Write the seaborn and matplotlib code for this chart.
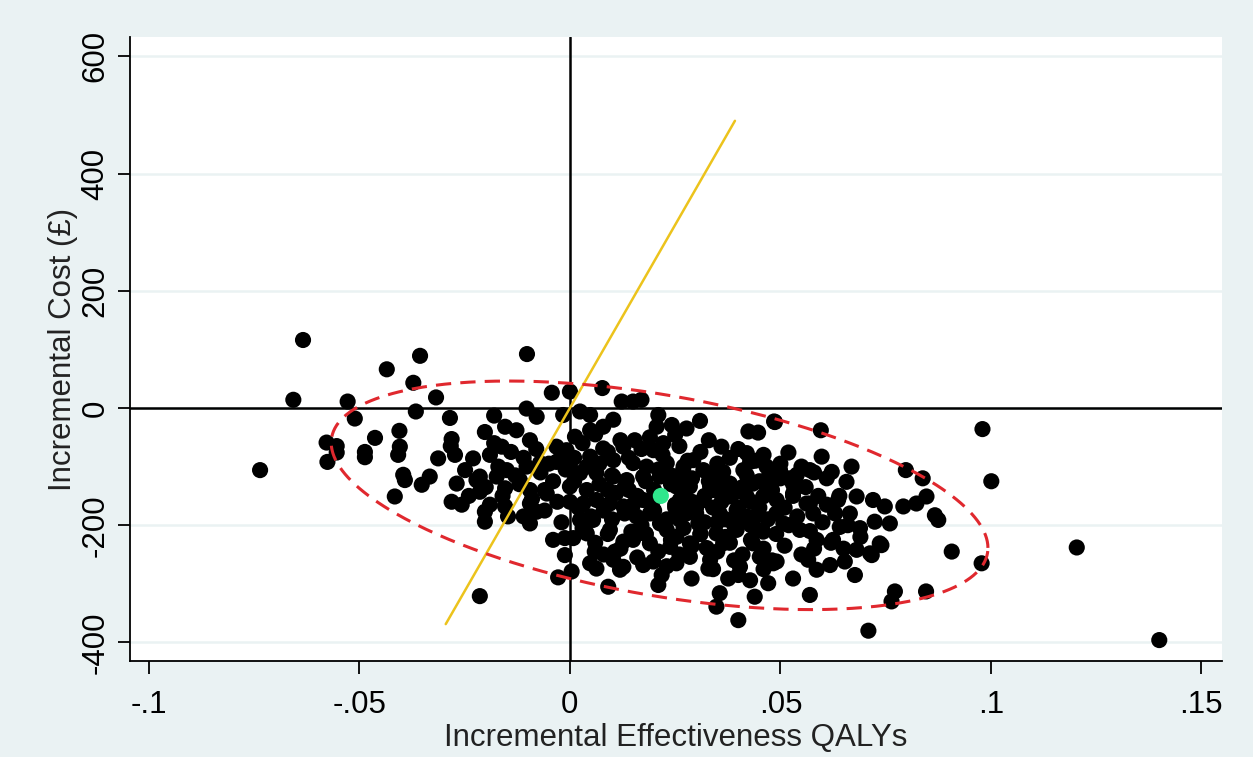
import numpy as np
import pandas as pd
import matplotlib
matplotlib.use("Agg")
import matplotlib.pyplot as plt
import seaborn as sns

# ---- data -------------------------------------------------------------
qaly_outer = [-0.0634, -0.0736, -0.0657, -0.0528, -0.0511, -0.0435, -0.0356, -0.0372, -0.0318, -0.0366,
              -0.0405, -0.0463, -0.0578, -0.0554, -0.0554, -0.0576, -0.0487, -0.0487, -0.0404, -0.0408,
              -0.0396, -0.0392, -0.0333, -0.0352, -0.0416, -0.0313]
cost_outer = [116, -106, 14, 11, -18, 66, 89, 43, 18, -6,
              -39, -51, -59, -65, -76, -92, -75, -84, -66, -80,
              -114, -123, -117, -131, -151, -86]

qaly_left = [-0.0102, -0.0043, 0.0, 0.0077, -0.0285, -0.018, -0.0103, -0.0202, -0.0154, -0.0281,
             -0.0273, -0.023, -0.0249, -0.019, -0.0162, -0.0127, -0.0095, -0.0079, -0.0032, -0.0032,
             -0.0071, -0.0103, -0.015, -0.0214, -0.0016, -0.0283,
             -0.0269, -0.0222, -0.0214, -0.0174, -0.0154, -0.0281, -0.0257, -0.0202, -0.0202, -0.0154,
             -0.0147, -0.0095, -0.0095, -0.0079, -0.0095, -0.0055, -0.0119, -0.004, -0.0012, -0.0012,
             -0.0028, -0.0214]
cost_left = [92, 26, 28, 34, -17, -13, -1, -41, -32, -53,
             -80, -86, -106, -80, -66, -38, -55, -15, -66, -92,
             -94, -100, -106, -117, -12, -65,
             -129, -123, -143, -117, -137, -160, -165, -177, -194, -168,
             -185, -163, -197, -177, -140, -146, -123, -225, -222, -251,
             -289, -321]

qaly_mid = [0.0123, 0.015, 0.017, 0.0024, 0.0048, 0.0103, 0.0079, 0.0048, 0.0012, 0.021,
            0.0206, 0.0242, 0.025, 0.0154, 0.0127, 0.0079, 0.0048, -0.0008, 0.0198, 0.0222,
            0.0103, 0.015, 0.0182, 0.023, 0.0, 0.0024, 0.0063, 0.0103, 0.0135, 0.0174,
            0.0214, 0.0245,
            0.0, 0.0032, 0.0063, 0.0095, 0.0127, 0.0158, 0.0024, 0.0055, 0.0095, 0.004,
            0.0008, 0.0127, 0.0146, 0.019, 0.0214, 0.0238, 0.0059, 0.0107, 0.0103, 0.0048,
            0.0063, 0.0127, 0.0174, 0.0198, 0.0119, 0.0004, 0.0091, 0.0218, 0.021, 0.0174,
            0.019, 0.023]
cost_mid = [11, 11, 14, -6, -12, -20, -32, -38, -49, -12,
            -32, -29, -46, -55, -66, -69, -83, -72, -72, -60,
            -89, -94, -100, -94, -100, -111, -111, -117, -123, -117,
            -117, -117,
            -134, -163, -157, -163, -168, -185, -191, -191, -208, -214,
            -222, -228, -211, -231, -197, -237, -245, -245, -259, -265,
            -274, -271, -268, -262, -276, -279, -305, -285, -302, -157,
            -180, -208]

qaly_right = [0.0309, 0.036, 0.0424, 0.0447, 0.0485, 0.0277, 0.0293, 0.0269, 0.0317, 0.034,
              0.0364, 0.042, 0.0428, 0.0412, 0.0467, 0.0483, 0.0253, 0.0285, 0.0333, 0.038,
              0.0435, 0.0467,
              0.0253, 0.0289, 0.0329, 0.0376, 0.0404, 0.0428, 0.0471, 0.0439, 0.0356, 0.0348,
              0.04, 0.0261, 0.0317, 0.038, 0.042, 0.0459, 0.0277, 0.0356, 0.0396, 0.0305,
              0.0348, 0.0396, 0.0459, 0.0253, 0.0285, 0.0325, 0.0364, 0.0435, 0.0451, 0.0483,
              0.0285, 0.0333,
              0.0487, 0.0596, 0.0519, 0.0598, 0.0669, 0.0483, 0.0499, 0.0539, 0.057, 0.0622,
              0.0657, 0.0681, 0.0637, 0.072, 0.053, 0.057, 0.0491,
              0.057, 0.0709, 0.053, 0.0618, 0.0653, 0.0677, 0.0681, 0.0713, 0.0491, 0.0566,
              0.0586, 0.0625, 0.0665, 0.0689, 0.0641, 0.0586, 0.0546, 0.0507, 0.0578, 0.0562,
              0.0736,
              0.098, 0.1001, 0.0798, 0.0838, 0.0847, 0.0823, 0.0792, 0.0867, 0.0875, 0.0748,
              0.0724, 0.076, 0.074, 0.0717, 0.0907, 0.0978, 0.0772, 0.0764, 0.0846,
              0.1204, 0.14]
cost_right = [-22, -66, -40, -42, -23, -35, -89, -106, -106, -111,
              -109, -77, -92, -106, -100, -111, -134, -134, -134, -129,
              -129, -134,
              -265, -291, -274, -291, -271, -294, -299, -322, -316, -339,
              -362, -157, -157, -151, -151, -151, -180, -180, -174, -197,
              -214, -208, -211, -220, -231, -239, -231, -231, -254, -265,
              -254, -259,
              -24, -38, -76, -83, -100, -106, -106, -114, -106, -109,
              -126, -151, -157, -157, -146, -163, -157,
              -319, -380, -291, -268, -262, -285, -242, -248, -262, -259,
              -276, -225, -180, -205, -203, -225, -208, -197, -180, -163,
              -231,
              -36, -125, -106, -120, -151, -163, -168, -183, -191, -168,
              -194, -197, -234, -251, -245, -265, -313, -330, -313,
              -238, -396]

# estimated positions in the solid-black core of the cloud
qaly_core = [0.003, 0.006, 0.009, 0.012, 0.014, 0.017, 0.019, 0.022, 0.026, 0.028,
             0.031, 0.033, 0.035, 0.038, 0.040, 0.044, 0.046, 0.050, 0.052, 0.055,
             0.001, 0.004, 0.007, 0.011, 0.013, 0.016, 0.018, 0.020, 0.024, 0.027,
             0.029, 0.032, 0.034, 0.036, 0.039, 0.041, 0.043, 0.045, 0.048, 0.051,
             0.053, 0.056, 0.059, 0.061,
             0.002, 0.005, 0.008, 0.010, 0.013, 0.015, 0.017, 0.020, 0.023, 0.025,
             0.027, 0.030, 0.032, 0.034, 0.037, 0.039, 0.042, 0.044, 0.047, 0.049,
             0.052, 0.054, 0.057, 0.060, 0.063,
             0.003, 0.006, 0.009, 0.012, 0.015, 0.018, 0.021, 0.024, 0.026, 0.029,
             0.031, 0.035, 0.038, 0.041, 0.043, 0.046, 0.048, 0.051, 0.055, 0.058,
             -0.018, -0.014, -0.011, -0.008, -0.005, -0.002, -0.017, -0.013, -0.007, -0.004,
             -0.001, -0.020, -0.016, -0.012, -0.009, -0.006, -0.003, -0.024, -0.019, -0.011,
             -0.006, -0.002, 0.000, 0.001, 0.004, 0.007, 0.010,
             0.021, 0.024, 0.027, 0.029, 0.036, 0.040, 0.045, 0.050, 0.053, 0.058,
             0.061, 0.064, 0.066, 0.062, 0.065, 0.069, 0.046, 0.040, 0.034, 0.023,
             0.016, 0.008,
             0.028, 0.033, 0.037, 0.042, 0.047, 0.030, 0.035, 0.040, 0.044, 0.026,
             0.031, 0.037, 0.043, 0.049, 0.020, 0.025, 0.014, 0.009, 0.018, 0.039]
cost_core = [-60, -45, -75, -55, -85, -70, -50, -80, -65, -90,
             -75, -55, -95, -85, -70, -90, -80, -95, -120, -100,
             -125, -140, -130, -145, -135, -150, -125, -140, -130, -145,
             -120, -150, -140, -120, -145, -135, -160, -125, -140, -170,
             -150, -135, -150, -120,
             -170, -185, -175, -190, -180, -165, -200, -175, -190, -170,
             -205, -180, -195, -170, -190, -200, -185, -205, -190, -215,
             -200, -185, -210, -195, -180,
             -205, -230, -215, -240, -225, -215, -245, -225, -250, -235,
             -215, -245, -230, -250, -225, -240, -260, -235, -250, -240,
             -60, -75, -85, -70, -95, -80, -100, -115, -110, -125,
             -105, -135, -150, -130, -155, -140, -160, -150, -165, -185,
             -175, -195, -160, -85, -100, -95, -115,
             -105, -115, -100, -160, -160, -170, -170, -120, -130, -110,
             -165, -150, -200, -230, -240, -220, -275, -285, -275, -270,
             -255, -250,
             -120, -125, -140, -115, -120, -170, -195, -190, -185, -190,
             -215, -220, -200, -180, -155, -165, -140, -140, -215, -260]

mean_point = [0.0216, -150]                     # green mean marker
ellipse_center = [0.0213, -149]                 # 95% confidence ellipse
ellipse_half_x, ellipse_half_y, ellipse_rho = 0.078, 195, -0.46
wtp_threshold = 12500                           # £ per QALY line
wtp_qaly_range = [-0.0295, 0.0392]

x_ticks = [-0.1, -0.05, 0, 0.05, 0.1, 0.15]
x_tick_labels = ['-.1', '-.05', '0', '.05', '.1', '.15']
y_ticks = [-400, -200, 0, 200, 400, 600]
y_tick_labels = ['-400', '-200', '0', '200', '400', '600']

# ---- figure ------------------------------------------------------------
sns.set_theme(style="white")
plt.rcParams['font.family'] = ['Liberation Sans', 'DejaVu Sans']

bg = '#eaf2f3'
fig = plt.figure(figsize=(12.53, 7.57), dpi=100, facecolor=bg)
ax = fig.add_axes([130 / 1253, 1 - 661 / 757, (1222 - 130) / 1253, (661 - 37) / 757])
ax.set_facecolor('white')

df = pd.DataFrame({
    'qaly': qaly_outer + qaly_left + qaly_mid + qaly_right + qaly_core,
    'cost': cost_outer + cost_left + cost_mid + cost_right + cost_core,
})

ax.axhline(0, color='black', lw=1.8, zorder=2)
ax.axvline(0, color='black', lw=1.8, zorder=2)

sns.scatterplot(data=df, x='qaly', y='cost', s=135, color='black', edgecolor='none',
                linewidth=0, ax=ax, zorder=3, legend=False)

# WTP threshold line
wtp_df = pd.DataFrame({'qaly': wtp_qaly_range,
                       'cost': [q * wtp_threshold for q in wtp_qaly_range]})
sns.lineplot(data=wtp_df, x='qaly', y='cost', color='#ecc31c', lw=1.8, ax=ax,
             zorder=4, sort=False)

# confidence ellipse
t = np.linspace(0, 2 * np.pi, 400)
ex = ellipse_center[0] + ellipse_half_x * np.cos(t)
ey = ellipse_center[1] + ellipse_half_y * (ellipse_rho * np.cos(t)
                                           + np.sqrt(1 - ellipse_rho ** 2) * np.sin(t))
ax.plot(ex, ey, color='#e0282e', lw=2.2, ls=(0, (5, 3)), zorder=4)

# mean point
ax.scatter([mean_point[0]], [mean_point[1]], s=135, color='#2fe68c', edgecolor='none', zorder=5)

ax.set_xlim(-0.1045, 0.1549)
ax.set_ylim(-431.7, 633)

ax.set_xticks(x_ticks)
ax.set_xticklabels(x_tick_labels)
ax.set_yticks(y_ticks)
ax.set_yticklabels(y_tick_labels, rotation=90, va='center', ha='right')

ax.tick_params(axis='x', which='major', bottom=True, direction='out',
               length=9, width=1.3, color='black', labelsize=22.5, labelcolor='black', pad=12)
ax.tick_params(axis='y', which='major', left=True, direction='out',
               length=9, width=1.3, color='black', labelsize=22.5, labelcolor='black', pad=5)

ax.yaxis.grid(True, color=bg, lw=1.8)
ax.xaxis.grid(False)
ax.set_axisbelow(True)

for side in ['top', 'right']:
    ax.spines[side].set_visible(False)
for side in ['left', 'bottom']:
    ax.spines[side].set_color('black')
    ax.spines[side].set_linewidth(1.3)

ax.set_xlabel('Incremental Effectiveness QALYs', fontsize=22.5, color='#222222', labelpad=2)
ax.set_ylabel('Incremental Cost (£)', fontsize=22.5, color='#222222', labelpad=2)

fig.savefig('out.png', dpi=100, facecolor=bg)
